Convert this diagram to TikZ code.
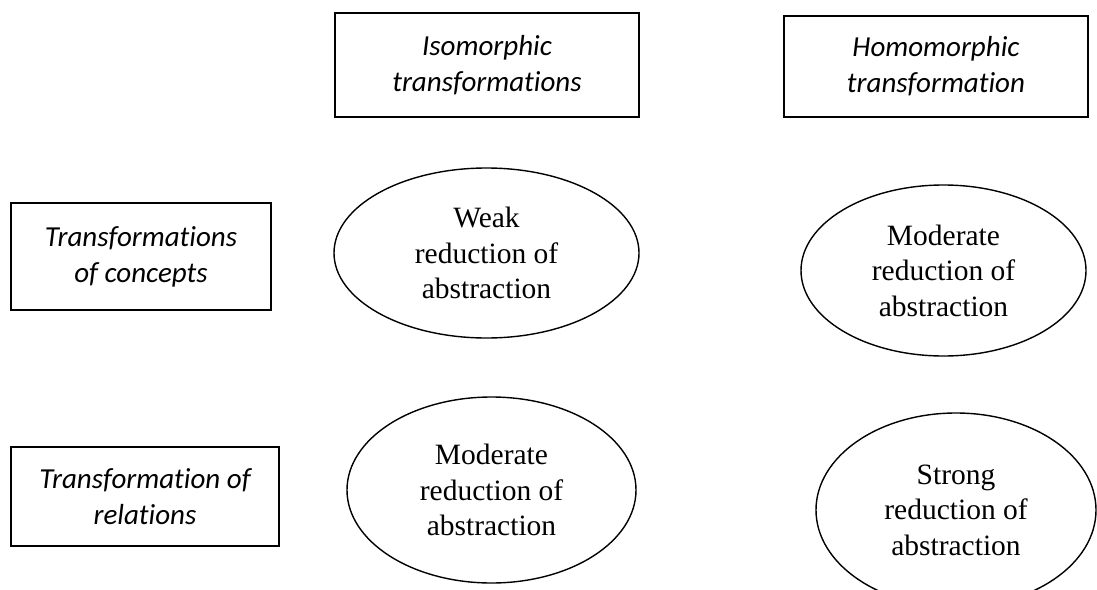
\documentclass[tikz,border=0pt]{standalone}
\usepackage{fontspec}
\setmainfont{Liberation Serif}
\newfontfamily\boxfont[Ligatures=NoCommon]{Carlito}
\usetikzlibrary{shapes.geometric}
\begin{document}
\begin{tikzpicture}[x=1pt,y=-1pt,
  labelbox/.style={draw, line width=1.4pt, inner sep=0pt, align=center,
    font=\boxfont\itshape\fontsize{29}{36}\selectfont},
  oval/.style={draw, ellipse, line width=1.4pt, inner sep=0pt, align=center,
    font=\fontsize{29.5}{35.5}\selectfont}]
  \clip (0,0) rectangle (1097,589);
  \fill[white] (0,0) rectangle (1097,589);

  % column headers
  \node[labelbox, minimum width=304pt, minimum height=104pt] (iso) at (487,65)
    {Isomorphic\\transformations};
  \node[labelbox, minimum width=304pt, minimum height=101pt] (homo) at (936,66.5)
    {Homomorphic\\transformation};

  % row headers
  \node[labelbox, minimum width=260pt, minimum height=107pt] (concepts) at (141,256.5)
    {Transformations\\of concepts};
  \node[labelbox, minimum width=268pt, minimum height=99pt] (relations) at (145,496.5)
    {Transformation of\\relations};

  % cells
  \node[oval, minimum width=305pt, minimum height=170pt] (weak) at (486.5,253)
    {Weak\\reduction of\\abstraction};
  \node[oval, minimum width=285pt, minimum height=171pt] (modA) at (943.5,270.5)
    {Moderate\\reduction of\\abstraction};
  \node[oval, minimum width=289pt, minimum height=186pt] (modB) at (491.5,490)
    {Moderate\\reduction of\\abstraction};
  \node[oval, minimum width=280pt, minimum height=194pt] (strong) at (956,510)
    {Strong\\reduction of\\abstraction};
\end{tikzpicture}
\end{document}
